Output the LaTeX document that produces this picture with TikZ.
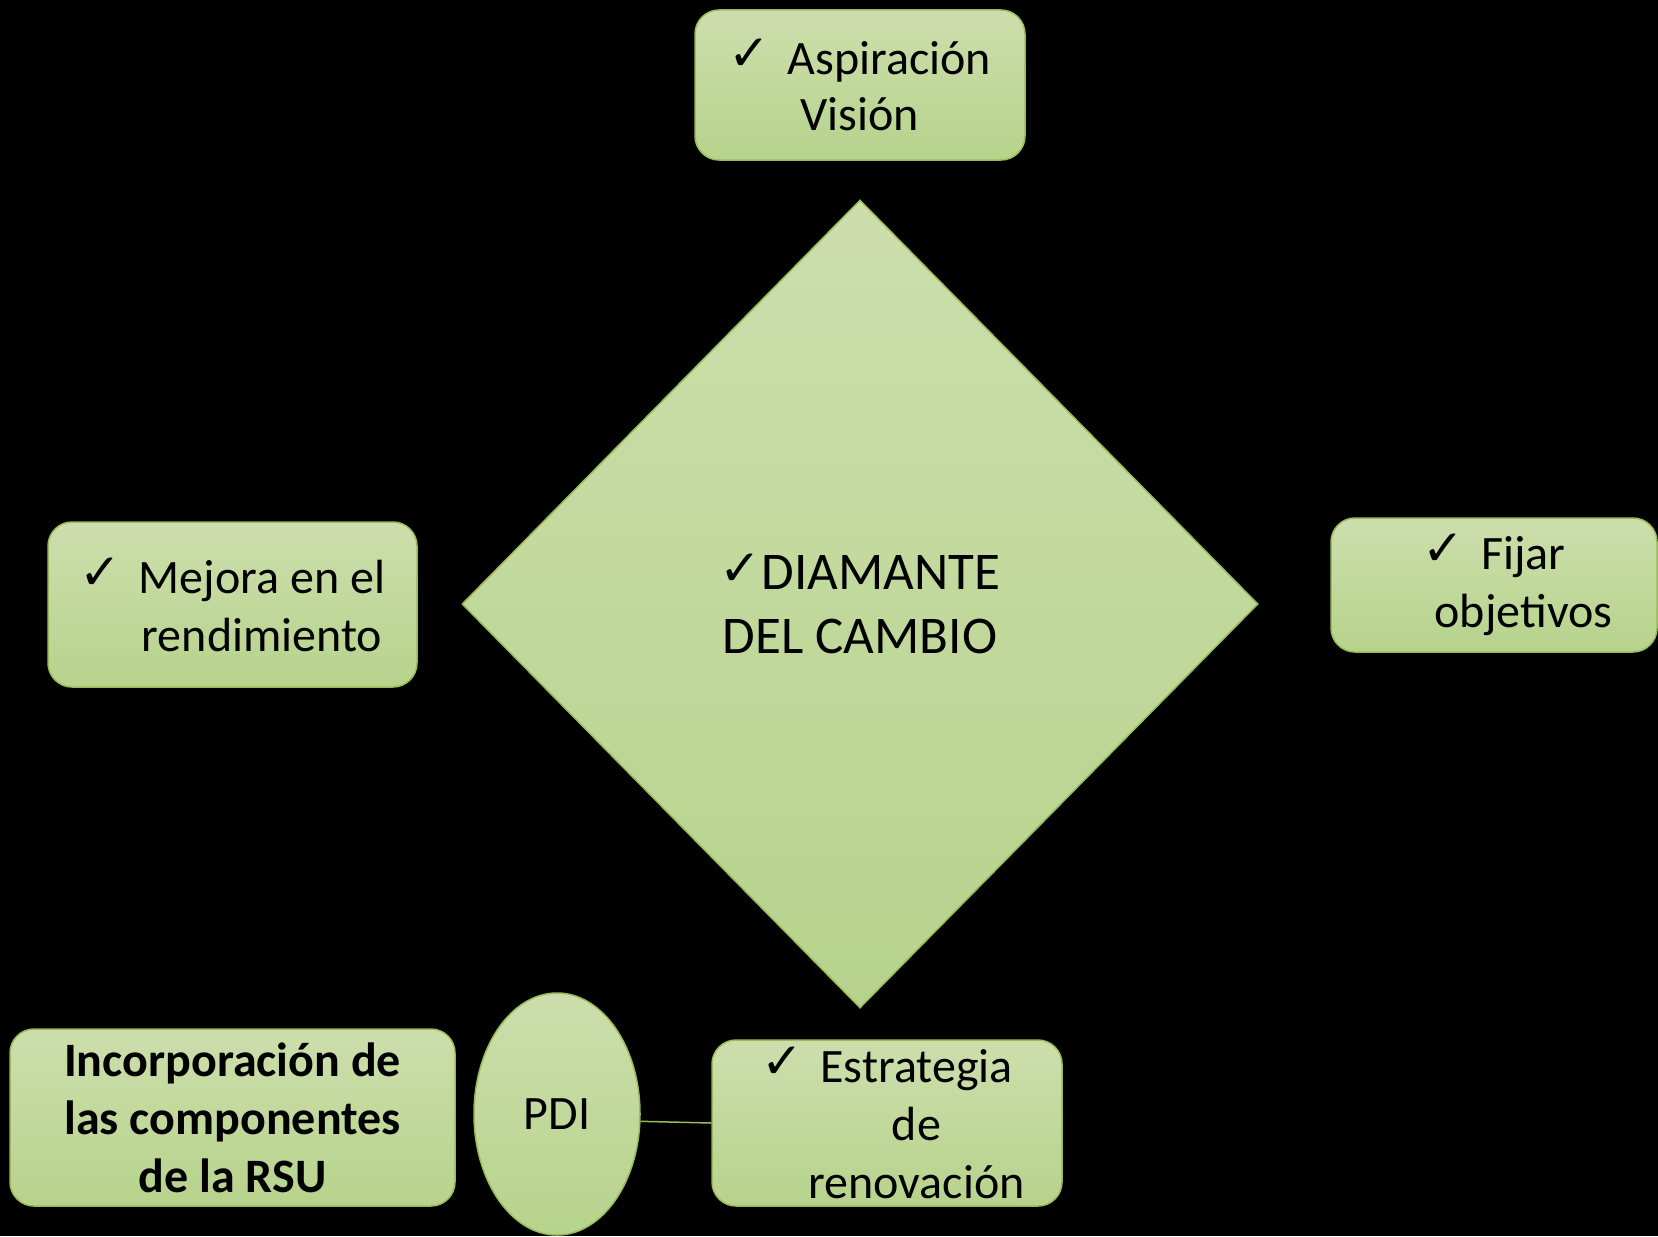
\documentclass[tikz,border=0pt]{standalone}
\usepackage{fontspec}
\setmainfont{Carlito}
\newfontfamily\chkfont{DejaVu Sans}
\usepackage{tikz}
\usetikzlibrary{shapes.geometric}
\definecolor{olivetop}{RGB}{205,222,172}
\definecolor{olivebot}{RGB}{182,211,140}
\definecolor{oliveline}{RGB}{155,187,89}
\newcommand{\chk}{\raisebox{2pt}{\chkfont\fontsize{25}{25}\selectfont ✓}}
\newcommand{\bul}{\makebox[16pt][l]{\chk}\hspace{13.5pt}}
\newcommand{\hang}{\hspace*{29.5pt}}

\begin{document}
\begin{tikzpicture}[x=0.5pt, y=-0.5pt,
    greenbox/.style={draw=oliveline, line width=0.75pt, top color=olivetop, bottom color=olivebot,
      rounded corners=12pt, inner sep=0pt, align=center, font=\fontsize{24}{29}\selectfont},
    line/.style={draw=oliveline, line width=0.75pt}]
  \fill [black] (0,0) rectangle (1658,1236);
  \useasboundingbox (0,0) rectangle (1658,1236);
  % the diamond
  \node [greenbox, shape=diamond, rounded corners=0pt, minimum width=398pt, minimum height=404pt,
    font=\fontsize{26.5}{32}\selectfont] (diamante) at (860,604)
    {\chk DIAMANTE\\DEL CAMBIO};
  % the four boxes round it
  \node [greenbox, minimum width=165pt, minimum height=75pt, font=\fontsize{24}{28}\selectfont] (vision) at (860,85)
    {\bul Aspiración\\Visión};
  \node [greenbox, minimum width=184.5pt, minimum height=82.5pt] (mejora) at (232.5,604.5)
    {\bul Mejora en el\\\hang rendimiento};
  \node [greenbox, minimum width=163pt, minimum height=67pt] (fijar) at (1494,585)
    {\bul Fijar\\\hang objetivos};
  \node [greenbox, minimum width=175pt, minimum height=83pt] (estrategia) at (887,1123)
    {\bul Estrategia\\\hang de\\\hang renovación};
  % bottom row
  \node [greenbox, minimum width=222.5pt, minimum height=88.5pt,
    font=\fontsize{24}{29}\selectfont\bfseries] (rsu) at (232.5,1117.5)
    {Incorporación de\\las componentes\\de la RSU};
  \node [greenbox, shape=ellipse, minimum width=83pt, minimum height=121pt] (pdi) at (557,1114) {PDI};
  \draw [line] (pdi.-5) -- (estrategia.west);
\end{tikzpicture}
\end{document}
